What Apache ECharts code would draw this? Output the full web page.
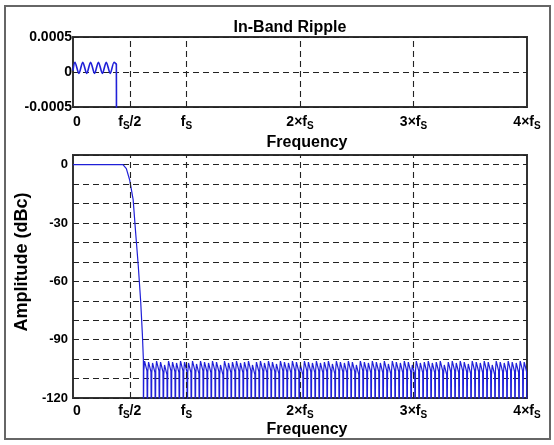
<!DOCTYPE html>
<html lang="en">
<head>
    <title>In-Band Ripple / Amplitude</title>
    <meta charset="utf-8">
    <style>
        html, body {margin:0; padding:0; background:#fff;}
        #container{width: 554px; height: 445px;}
    </style>
</head>
<body>
<div id="container"></div>
<script src="https://cdn.jsdelivr.net/npm/echarts@6/dist/echarts.min.js"></script>
<script>
// frequency in units of fs
var xTicks = [0, 0.5, 1, 2, 3, 4];
var xTickLabels = ['{b|0}', '{b|f}{s|S}{b|/2}', '{b|f}{s|S}', '{b|2×f}{s|S}', '{b|3×f}{s|S}', '{b|4×f}{s|S}'];
var gridFreqs = [0.5, 1, 2, 3];

// in-band ripple (linear deviation)
var rippleFreq  = [0, 0.017, 0.052, 0.086, 0.121, 0.155, 0.190, 0.224, 0.259, 0.293, 0.328, 0.362, 0.376, 0.382, 0.383];
var rippleLevel = [0.00002, 0.00014, -0.00002, 0.00014, -0.00002, 0.00014, -0.00002, 0.00014, -0.00002, 0.00014, -0.00002, 0.00014, 0.00012, 0.00011, -0.0008];

// passband + transition band (dBc)
var passFreq = [0, 0.44, 0.47, 0.50, 0.53, 0.552, 0.575, 0.596, 0.611, 0.62];
var passDb   = [0, 0, -2, -8, -18, -35, -52, -70, -87, -100];

// stopband sidelobe peaks (dBc), one per lobe from 0.62 fs to 4 fs
var stopStart = 0.62, stopEnd = 4.0;
var stopPeaks = [
  -100, -100.5, -101, -100, -100.5, -102, -100, -100.5, -101, -100,
  -100.5, -101, -100, -101.5, -100, -100.5, -101, -100, -100.5, -102,
  -100, -101, -100.5, -100, -101, -100.5, -100, -102, -100.5, -100,
  -101, -100, -100.5, -101.5, -100, -100.5, -101, -100, -100.5, -102,
  -100, -100.5, -101, -100, -101, -100.5, -100, -101.5, -100, -100.5,
  -101, -100, -100.5, -102, -100, -100.5, -101, -100, -100.5, -101,
  -100, -101.5, -100, -100.5, -101, -100, -100.5, -102, -100, -101,
  -100.5, -100, -101, -100.5, -100, -102, -100.5, -100, -101, -100,
  -100.5, -101.5, -100, -100.5, -101, -100, -100.5, -102, -100, -100.5,
  -101, -100, -100.5, -101, -100, -100.5
];
var notchDb = -140;

var rippleData = rippleFreq.map(function (f, i) { return [f, rippleLevel[i]]; });
var respData = passFreq.map(function (f, i) { return [f, passDb[i]]; });
var w = (stopEnd - stopStart) / stopPeaks.length;
stopPeaks.forEach(function (p, i) {
    var x0 = stopStart + i * w;
    respData.push([x0, notchDb]);
    respData.push([x0 + 0.1 * w, p - 6]);
    respData.push([x0 + 0.3 * w, p - 1]);
    respData.push([x0 + 0.5 * w, p]);
    respData.push([x0 + 0.7 * w, p - 1]);
    respData.push([x0 + 0.9 * w, p - 6]);
});
respData.push([stopEnd, notchDb]);

var font = 'Liberation Sans, Arial, sans-serif';
var richLabel = {
    b: {fontSize: 14, fontWeight: 'bold', fontFamily: font, color: '#000', verticalAlign: 'top', lineHeight: 16},
    s: {fontSize: 10, fontWeight: 'bold', fontFamily: font, color: '#000', verticalAlign: 'bottom', lineHeight: 10, padding: [7, 0, 0, 0]}
};
function xFmt(v) {
    var i = xTicks.indexOf(v);
    return i >= 0 ? xTickLabels[i] : '';
}
var dashGrid = {lineStyle: {color: '#222', type: [6, 4], width: 1.1}};

function xAxisOf(gi, margin) {
    return {
        type: 'value', gridIndex: gi, min: 0, max: 4, interval: 0.5,
        axisLine: {show: false}, axisTick: {show: false}, splitLine: {show: false},
        axisLabel: {formatter: xFmt, rich: richLabel, margin: margin, alignMinLabel: 'left', hideOverlap: false}
    };
}
function vLines(xi, yi) {
    return {
        type: 'line', xAxisIndex: xi, yAxisIndex: yi, data: [], silent: true,
        markLine: {
            symbol: 'none', silent: true, label: {show: false},
            lineStyle: {color: '#222', type: [6, 4], width: 1.1},
            data: gridFreqs.map(function (f) { return {xAxis: f}; })
        }
    };
}

var myChart = echarts.init(document.getElementById('container'));
var options = {
    animation: false,
    backgroundColor: '#fff',
    grid: [
        {left: 73, top: 37, width: 454, height: 70, show: true, borderColor: '#333', borderWidth: 2, backgroundColor: 'transparent'},
        {left: 73, top: 155, width: 454, height: 243, show: true, borderColor: '#333', borderWidth: 2, backgroundColor: 'transparent'}
    ],
    xAxis: [xAxisOf(0, 8), xAxisOf(1, 6)],
    yAxis: [
        {
            type: 'value', gridIndex: 0, min: -0.0005, max: 0.0005, interval: 0.0005,
            axisLine: {show: false}, axisTick: {show: false},
            splitLine: dashGrid,
            axisLabel: {
                margin: 1, fontSize: 14, fontWeight: 'bold', fontFamily: font, color: '#000',
                formatter: function (v) { return v === 0 ? '0' : (v > 0 ? '0.0005' : '-0.0005'); }
            }
        },
        {
            type: 'value', gridIndex: 1, min: -120, max: 5, interval: 10,
            axisLine: {show: false}, axisTick: {show: false},
            splitLine: dashGrid,
            axisLabel: {
                margin: 5, fontSize: 13, fontWeight: 'bold', fontFamily: font, color: '#000',
                formatter: function (v) { return (v <= 0 && v % 30 === 0) ? String(v) : ''; }
            }
        }
    ],
    graphic: [
        {type: 'rect', shape: {x: 5, y: 6, width: 545, height: 433}, style: {fill: 'none', stroke: '#666', lineWidth: 2}, z: -1},
        {type: 'text', x: 290, y: 28, style: {text: 'In-Band Ripple', font: 'bold 16px ' + font, fill: '#000', align: 'center', verticalAlign: 'middle'}},
        {type: 'text', x: 307, y: 143, style: {text: 'Frequency', font: 'bold 16px ' + font, fill: '#000', align: 'center', verticalAlign: 'middle'}},
        {type: 'text', x: 307, y: 430, style: {text: 'Frequency', font: 'bold 16px ' + font, fill: '#000', align: 'center', verticalAlign: 'middle'}},
        {type: 'text', x: 22, y: 262, rotation: Math.PI / 2, style: {text: 'Amplitude (dBc)', font: 'bold 18px ' + font, fill: '#000', align: 'center', verticalAlign: 'middle'}}
    ],
    series: [
        vLines(0, 0),
        vLines(1, 1),
        {
            type: 'line', xAxisIndex: 0, yAxisIndex: 0, data: rippleData, showSymbol: false,
            smooth: 0.3, clip: true, lineStyle: {color: '#2020d8', width: 1.6}
        },
        {
            type: 'line', xAxisIndex: 1, yAxisIndex: 1, data: respData, showSymbol: false,
            clip: true, lineStyle: {color: '#2020d8', width: 1.2}
        }
    ]
};
myChart.setOption(options);
</script>
</body>
</html>
